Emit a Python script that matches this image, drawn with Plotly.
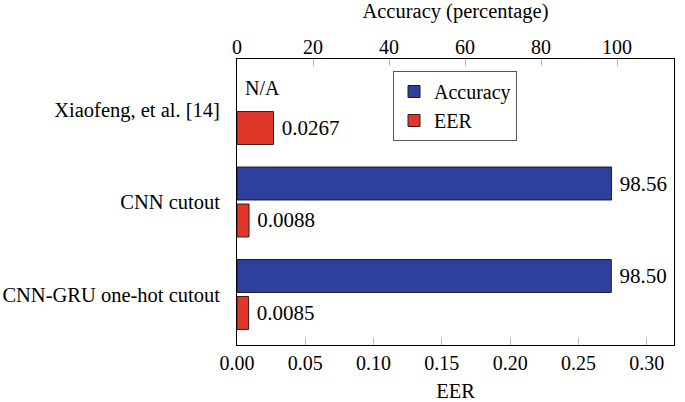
import plotly.graph_objects as go

categories = ["Xiaofeng, et al. [14]", "CNN cutout", "CNN-GRU one-hot cutout"]
accuracy = [None, 98.56, 98.50]
eer = [0.0267, 0.0088, 0.0085]
eer_ticks = [0.0, 0.05, 0.10, 0.15, 0.20, 0.25, 0.30]
acc_ticks = [0, 20, 40, 60, 80, 100]

FONT = "Liberation Serif, Times New Roman, serif"
FS = 20
BLUE = "#2F3F9E"
RED = "#E1362A"

acc_text = ["" if v is None else f" {v:.2f}" for v in accuracy]
eer_text = [f" {v:.4f}" for v in eer]

fig = go.Figure()
fig.add_trace(go.Bar(
    y=categories, x=accuracy, orientation="h", name="Accuracy",
    xaxis="x2", yaxis="y",
    marker=dict(color=BLUE, line=dict(color="#1a1a2a", width=1)),
    width=0.356, offset=-0.378,
    text=acc_text, textposition="outside", cliponaxis=False,
    textfont=dict(family=FONT, size=21, color="black"),
))
fig.add_trace(go.Bar(
    y=categories, x=eer, orientation="h", name="EER",
    xaxis="x", yaxis="y",
    marker=dict(color=RED, line=dict(color="#3a1a1a", width=1)),
    width=0.356, offset=0.022,
    text=eer_text, textposition="outside", cliponaxis=False,
    textfont=dict(family=FONT, size=21, color="black"),
))

# N/A marker for missing accuracy
for cat, v in zip(categories, accuracy):
    if v is None:
        fig.add_annotation(x=0, y=cat, xref="x2", yref="y", text="N/A",
                           showarrow=False, xanchor="left", yanchor="middle",
                           xshift=6, yshift=22,
                           font=dict(family=FONT, size=FS, color="black"))

fig.update_layout(
    width=685, height=402,
    margin=dict(l=237, r=11, t=59, b=57),
    paper_bgcolor="white", plot_bgcolor="white",
    font=dict(family=FONT, size=FS, color="black"),
    barmode="overlay",
    showlegend=True,
    legend=dict(x=0.357, y=0.958, xanchor="left", yanchor="top",
                bordercolor="#555555", borderwidth=1, bgcolor="white",
                font=dict(family=FONT, size=FS, color="black"),
                traceorder="normal", tracegroupgap=0),
    xaxis=dict(range=[0, 0.32], tickvals=eer_ticks, tickformat=".2f",
               showgrid=False, zeroline=False, showline=True, linecolor="black",
               linewidth=1, mirror=True, ticks="inside", ticklen=7,
               tickcolor="#bbbbbb",
               title=dict(text="EER", standoff=10, font=dict(size=20.5)),
               side="bottom", automargin=False),
    xaxis2=dict(range=[0, 115], tickvals=acc_ticks, overlaying="x", side="top",
                showgrid=False, zeroline=False, showline=False,
                ticks="inside", ticklen=7, tickcolor="#bbbbbb",
                title=dict(text="Accuracy (percentage)", standoff=13,
                           font=dict(size=20.5)),
                automargin=False),
    yaxis=dict(type="category", range=[2.546, -0.546], showgrid=False,
               zeroline=False, showline=True, linecolor="black", linewidth=1,
               mirror=True, ticks="", ticklabelstandoff=12, automargin=False,
               tickfont=dict(size=20.5)),
)

fig.write_html("out.html", config={"displayModeBar": False},
               post_script="document.body.style.margin='0';")
